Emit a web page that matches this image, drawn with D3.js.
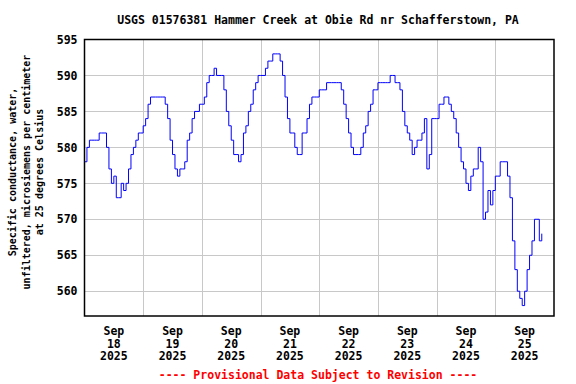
<!DOCTYPE html>
<html>
<head>
<meta charset="utf-8">
<script src="https://cdn.jsdelivr.net/npm/d3@7"></script>
<style>
  body { margin: 0; background: #fff; }
  svg { display: block; }
  text { font-family: "DejaVu Sans Mono", "Liberation Mono", monospace; font-weight: bold; }
</style>
</head>
<body>
<svg id="chart" width="576" height="384"></svg>
<script>
// Hourly specific conductance (uS/cm), starting Sep 18 2025 00:00
const conductance = [
  578, 580, 581, 581, 581, 581, 582, 582, 582, 580, 577, 575, 576, 573, 573, 575,
  574, 575, 577, 579, 580, 581, 582, 582, 583, 584, 586, 587, 587, 587, 587, 587,
  587, 586, 584, 581, 579, 577, 576, 577, 577, 578, 581, 582, 584, 585, 585, 586,
  586, 587, 589, 590, 590, 591, 590, 590, 590, 588, 585, 583, 581, 579, 579, 578,
  579, 582, 583, 585, 586, 588, 589, 590, 590, 590, 591, 592, 592, 593, 593, 593,
  592, 590, 587, 584, 582, 582, 580, 579, 579, 582, 582, 584, 586, 587, 587, 587,
  588, 588, 588, 589, 589, 589, 589, 589, 589, 588, 586, 584, 582, 580, 579, 579,
  579, 580, 582, 583, 585, 586, 588, 588, 589, 589, 589, 589, 589, 590, 590, 589,
  589, 588, 585, 583, 582, 581, 579, 580, 581, 581, 582, 584, 577, 579, 584, 584,
  584, 586, 586, 587, 587, 586, 585, 584, 582, 580, 578, 577, 575, 574, 576, 577,
  577, 580, 578, 570, 571, 574, 572, 574, 576, 576, 578, 578, 578, 576, 573, 567,
  563, 560, 559, 558, 560, 563, 565, 567, 570, 570, 567, 568
];
const dayLabels = ["18", "19", "20", "21", "22", "23", "24", "25"];
const yTicks = [560, 565, 570, 575, 580, 585, 590, 595];
const titleText = "USGS 01576381 Hammer Creek at Obie Rd nr Schafferstown, PA";
const yLabelLines = ["Specific conductance, water,", "unfiltered, microsiemens per centimeter", "at 25 degrees Celsius"];

const svg = d3.select("#chart");
const plotLeft = 84.5, plotRight = 554, plotTop = 39.5, plotBottom = 316;
const t0 = Date.UTC(2025, 8, 18);
const hour = 3600 * 1000;

const x = d3.scaleUtc()
  .domain([new Date(t0), new Date(t0 + 192 * hour)])
  .range([plotLeft, plotRight]);
const y = d3.scaleLinear()
  .domain([556.55, 595])
  .range([plotBottom, plotTop]);

// grid
const grid = svg.append("g").attr("stroke", "#c8c8c8").attr("stroke-width", 1);
grid.selectAll("line.h")
  .data(yTicks.filter(d => d < 595))
  .enter().append("line")
  .attr("x1", plotLeft).attr("x2", plotRight)
  .attr("y1", d => Math.round(y(d)) + 0.5).attr("y2", d => Math.round(y(d)) + 0.5);
grid.selectAll("line.v")
  .data(d3.range(1, 8))
  .enter().append("line")
  .attr("x1", d => Math.round(x(new Date(t0 + d * 24 * hour))) + 0.5)
  .attr("x2", d => Math.round(x(new Date(t0 + d * 24 * hour))) + 0.5)
  .attr("y1", plotTop).attr("y2", plotBottom);

// data line
const line = d3.line()
  .x((d, i) => x(new Date(t0 + i * hour)))
  .y(d => y(d))
  .curve(d3.curveStepAfter);
svg.append("path")
  .datum(conductance)
  .attr("fill", "none")
  .attr("stroke", "#0000ff")
  .attr("stroke-width", 1)
  .attr("d", line);

// frame
svg.append("rect")
  .attr("x", plotLeft).attr("y", plotTop)
  .attr("width", plotRight - plotLeft).attr("height", plotBottom - plotTop)
  .attr("fill", "none").attr("stroke", "#000").attr("stroke-width", 1.5);

// y axis
const yAxis = svg.append("g")
  .attr("transform", `translate(${plotLeft},0)`)
  .call(d3.axisLeft(y).tickValues(yTicks).tickSize(0).tickPadding(7));
yAxis.select(".domain").remove();
yAxis.selectAll("text").attr("font-size", 11.5).attr("fill", "#000")
  .style("font-family", "DejaVu Sans Mono").style("font-weight", "bold");

// x labels at noon
const xl = svg.append("g");
dayLabels.forEach((d, i) => {
  const cx = x(new Date(t0 + (i * 24 + 12) * hour));
  const t = xl.append("text")
    .attr("text-anchor", "middle")
    .attr("font-size", 11.5)
    .attr("fill", "#000");
  ["Sep", d, "2025"].forEach((s, k) => {
    t.append("tspan").attr("x", cx).attr("y", 335 + k * 12.6).text(s);
  });
});

// title
svg.append("text")
  .attr("x", 318).attr("y", 24)
  .attr("text-anchor", "middle").attr("font-size", 11.5)
  .text(titleText);

// y label
const yl = svg.append("text")
  .attr("transform", "translate(0,172) rotate(-90)")
  .attr("text-anchor", "middle").attr("font-size", 10);
yLabelLines.forEach((s, k) => {
  yl.append("tspan").attr("x", 0).attr("y", 16 + k * 13.5).text(s);
});

// provisional note
svg.append("text")
  .attr("x", 318).attr("y", 379)
  .attr("text-anchor", "middle").attr("font-size", 11.5)
  .attr("fill", "#ff0000")
  .text("---- Provisional Data Subject to Revision ----");
</script>
</body>
</html>
